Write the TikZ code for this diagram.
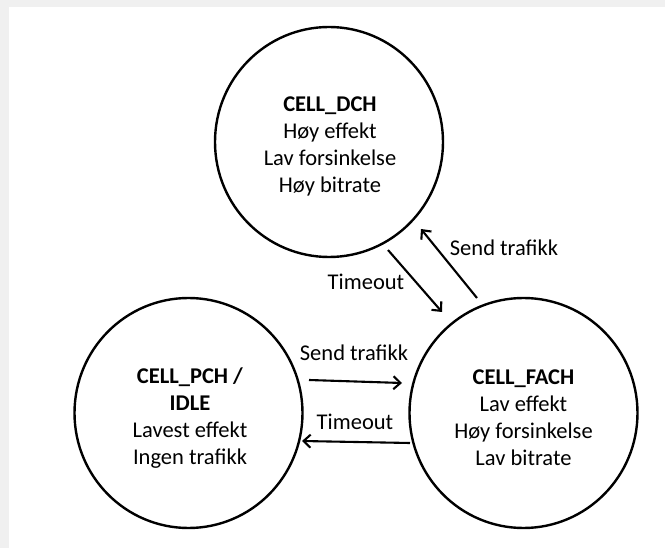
\documentclass[tikz,border=0pt]{standalone}
\usepackage{fontspec}
\setmainfont{Carlito}
\usetikzlibrary{shapes.geometric,arrows.meta}
\definecolor{framegray}{HTML}{F0F0F0}
\tikzset{
  state/.style={ellipse,draw=black,line width=2.4pt,minimum width=228pt,minimum height=230pt,inner sep=0pt},
  txt/.style={align=center,font=\fontsize{22.5}{27}\selectfont,inner sep=0pt},
  lbl/.style={font=\fontsize{22.5}{27}\selectfont,inner sep=0pt},
  conn/.style={line width=2.1pt,-{Straight Barb[length=7pt,width=13pt,line width=2.1pt]}}
}
\begin{document}
\begin{tikzpicture}[x=1pt,y=-1pt]
\useasboundingbox (0,0) rectangle (665,548);
\fill[framegray] (0,0) rectangle (665,548);
\fill[white] (9,7) rectangle (665,548);

\node[state] (dch) at (329,142) {};
\node[state] (pch) at (188.5,413) {};
\node[state] (fach) at (523.5,413) {};

\node[txt] (dcht) at (330,146) {\textbf{CELL\_DCH}\\Høy effekt\\Lav forsinkelse\\Høy bitrate};
\node[txt] (pcht) at (190,418) {\textbf{CELL\_PCH /}\\\textbf{IDLE}\\Lavest effekt\\Ingen trafikk};
\node[txt] (facht) at (523.5,418) {\textbf{CELL\_FACH}\\Lav effekt\\Høy forsinkelse\\Lav bitrate};

\coordinate (t1s) at (388,250);
\coordinate (t1e) at (442,312);
\coordinate (s1s) at (477,298);
\coordinate (s1e) at (421,229);
\coordinate (s2s) at (309,380);
\coordinate (s2e) at (402,383);
\coordinate (t2s) at (410,443);
\coordinate (t2e) at (302,441);

\draw[conn] (t1s) -- (t1e);
\draw[conn] (s1s) -- (s1e);
\draw[conn] (s2s) -- (s2e);
\draw[conn] (t2s) -- (t2e);

\node[lbl] (l1) at (366,282) {Timeout};
\node[lbl] (l2) at (504,248) {Send trafikk};
\node[lbl] (l3) at (354,353) {Send trafikk};
\node[lbl] (l4) at (355,422) {Timeout};
\end{tikzpicture}
\end{document}
